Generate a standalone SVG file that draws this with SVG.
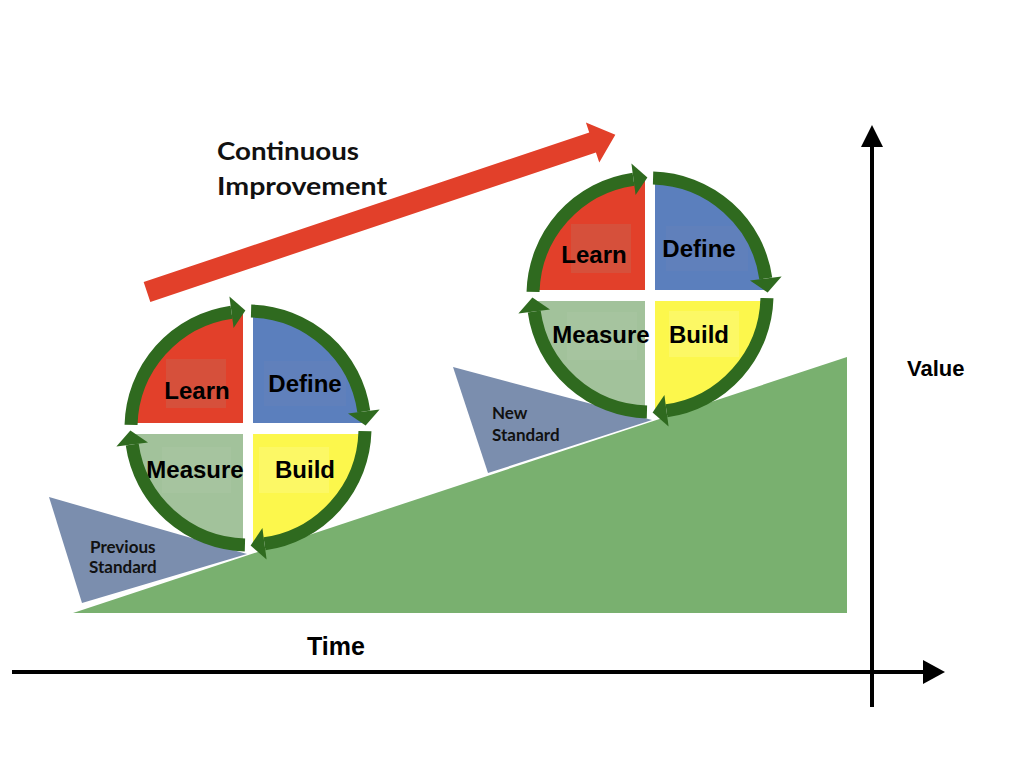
<svg xmlns="http://www.w3.org/2000/svg" xmlns:xlink="http://www.w3.org/1999/xlink" width="1024" height="768" viewBox="0 0 1024 768">
<style>
.q-learn{fill:#e2402a}
.q-define{fill:#5b7fbd}
.q-measure{fill:#a2c29b}
.q-build{fill:#fcf74c}
.box-learn{fill:#d6503b}
.box-define{fill:#6080bb}
.box-measure{fill:#a6c49f}
.box-build{fill:#fcf865}
.lbl{font-family:"Liberation Sans",Arial,sans-serif;font-weight:bold;font-size:24px;fill:#000;text-anchor:middle}
.std{font-family:Lato,"Open Sans",sans-serif;font-weight:bold;font-size:17px;fill:#111}
.title{font-family:Lato,"Open Sans",sans-serif;font-weight:bold;font-size:24px;fill:#111}
.axislbl{font-family:"Liberation Sans",Arial,sans-serif;font-weight:bold;fill:#000}
.ring{fill:none;stroke:#2f6a1f;stroke-width:13}
.ringhead{fill:#2f6a1f}
.axis{stroke:#000;stroke-width:4;fill:none}
</style>
<defs>
<g id="ringArc">
<path class="ring" d="M -116.96 -3.06 A 117 117 0 0 1 -16.5 -115.8"/>
<polygon class="ringhead" points="-18.6,-131.6 -14.4,-100.0 -2.6,-117.6"/>
</g>
<g id="quads">
<path class="q-learn" d="M -5 -5 L -5 -113.9 A 114 114 0 0 0 -113.9 -5 Z"/>
<path class="q-define" d="M 5 -5 L 5 -113.9 A 114 114 0 0 1 113.9 -5 Z"/>
<path class="q-measure" d="M -5 6 L -113.8 6 A 114 114 0 0 0 -5 113.9 Z"/>
<path class="q-build" d="M 5 6 L 113.8 6 A 114 114 0 0 1 5 113.9 Z"/>
</g>
</defs>

<g id="slope">
<polygon points="73,613 847,357 847,613" fill="#79b06f"/>
</g>

<g id="previous-standard">
<polygon points="49,497 247,554 82,603" fill="#7b8eae"/>
<text class="std" x="90" y="553">Previous</text>
<text class="std" x="89" y="573">Standard</text>
</g>

<g id="new-standard">
<polygon points="453,367 652,420 488,473" fill="#7b8eae"/>
<text class="std" x="492" y="419">New</text>
<text class="std" x="492" y="441">Standard</text>
</g>

<g id="cycle-1">
<use xlink:href="#quads" transform="translate(248,428)"/>
<rect class="box-learn" x="166" y="359" width="60" height="49"/>
<rect class="box-define" x="264" y="361" width="82" height="45"/>
<rect class="box-measure" x="162" y="447" width="69" height="46"/>
<rect class="box-build" x="259" y="447" width="70" height="46"/>
<text class="lbl" x="197" y="399">Learn</text>
<text class="lbl" x="305" y="392">Define</text>
<text class="lbl" x="195" y="478">Measure</text>
<text class="lbl" x="305" y="478">Build</text>
</g>

<g id="cycle-2">
<use xlink:href="#quads" transform="translate(650,295)"/>
<rect class="box-learn" x="571" y="224" width="60" height="49"/>
<rect class="box-define" x="666" y="226" width="82" height="45"/>
<rect class="box-measure" x="567" y="312" width="70" height="48"/>
<rect class="box-build" x="669" y="311" width="70" height="46"/>
<text class="lbl" x="594" y="263">Learn</text>
<text class="lbl" x="699" y="257">Define</text>
<text class="lbl" x="601" y="343">Measure</text>
<text class="lbl" x="699" y="343">Build</text>
</g>

<g id="connectors">
<g id="ring-1" transform="translate(248,428)">
<use xlink:href="#ringArc"/>
<use xlink:href="#ringArc" transform="rotate(90)"/>
<use xlink:href="#ringArc" transform="rotate(180)"/>
<use xlink:href="#ringArc" transform="rotate(270)"/>
</g>
<g id="ring-2" transform="translate(650,295)">
<use xlink:href="#ringArc"/>
<use xlink:href="#ringArc" transform="rotate(90)"/>
<use xlink:href="#ringArc" transform="rotate(180)"/>
<use xlink:href="#ringArc" transform="rotate(270)"/>
</g>
<g id="improvement-arrow" transform="translate(147,292) rotate(-18.55)">
<polygon points="0,-10.5 470,-10.5 470,-21 494,0 470,21 470,10.5 0,10.5" fill="#e2402a"/>
</g>
<g id="axes">
<line class="axis" x1="12" y1="672" x2="925" y2="672"/>
<polygon points="945,672 923,660 923,684" fill="#000"/>
<line class="axis" x1="872" y1="707" x2="872" y2="145"/>
<polygon points="872,125 861,147 883,147" fill="#000"/>
</g>
</g>

<g id="title">
<text class="title" x="217" y="160" textLength="142" lengthAdjust="spacingAndGlyphs">Continuous</text>
<text class="title" x="217" y="195" textLength="170" lengthAdjust="spacingAndGlyphs">Improvement</text>
</g>
<g id="axis-labels">
<text class="axislbl" x="307" y="655" font-size="25">Time</text>
<text class="axislbl" x="907" y="376" font-size="22">Value</text>
</g>
</svg>
